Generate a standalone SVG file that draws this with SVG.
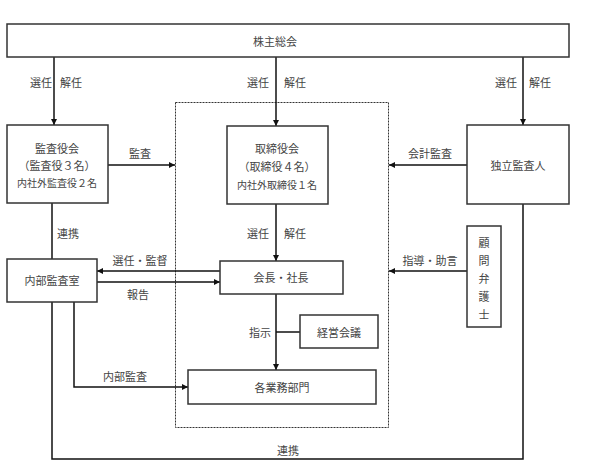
<svg xmlns="http://www.w3.org/2000/svg" width="606" height="466" viewBox="0 0 606 466">
<style>
.box{fill:#fff;stroke:#333;stroke-width:1.5}
.ln{fill:none;stroke:#111;stroke-width:1.5}
.ar{fill:none;stroke:#111;stroke-width:1.5;marker-end:url(#ah)}
.dot{fill:none;stroke:#333;stroke-width:1;stroke-dasharray:2 1}
text{font-family:"Noto Sans CJK JP","Noto Sans",sans-serif;font-size:11px;fill:#444;text-anchor:middle;dominant-baseline:central}
.s{font-size:10px}
</style>
<defs>
<marker id="ah" viewBox="0 0 8 8" refX="8" refY="4" markerWidth="6" markerHeight="6" markerUnits="userSpaceOnUse" orient="auto"><path d="M0,0 L8,4 L0,8 Z" fill="#111"/></marker>
</defs>
<rect class="dot" x="175.5" y="102.5" width="213" height="325"/>
<g id="connectors">
<path class="ar" d="M54,57 V125"/>
<path class="ar" d="M276,57 V126"/>
<path class="ar" d="M523,57 V125"/>
<path class="ar" d="M108,165 H175"/>
<path class="ar" d="M467,165 H389"/>
<path class="ar" d="M276,204 V261"/>
<path class="ln" d="M52,203 V259"/>
<path class="ar" d="M220,271 H97"/>
<path class="ar" d="M97,282 H220"/>
<path class="ar" d="M467,271 H389"/>
<path class="ar" d="M276,294 V370"/>
<path class="ln" d="M300,332 H276"/>
<path class="ar" d="M74,302 V387 H188"/>
<path class="ln" d="M52,302 V459 H523 V204"/>
<text x="41" y="82">選任</text><text x="71" y="82">解任</text>
<text x="258" y="82">選任</text><text x="295" y="82">解任</text>
<text x="506" y="82">選任</text><text x="540" y="82">解任</text>
<text x="140" y="153">監査</text>
<text x="430" y="153">会計監査</text>
<text x="258" y="233">選任</text><text x="295" y="233">解任</text>
<text x="68" y="233">連携</text>
<text x="140" y="260">選任・監督</text>
<text x="138" y="294">報告</text>
<text x="430" y="260">指導・助言</text>
<text x="260" y="332">指示</text>
<text x="125" y="376">内部監査</text>
<text x="288" y="450">連携</text>
</g>
<g id="shareholders"><rect class="box" x="7" y="24" width="562" height="33"/><text x="275" y="41">株主総会</text></g>
<g id="audit-board"><rect class="box" x="7" y="125" width="101" height="78"/><text x="57" y="148">監査役会</text><text x="57" y="165">（監査役３名）</text><text class="s" x="57" y="182">内社外監査役２名</text></g>
<g id="board"><rect class="box" x="227" y="126" width="101" height="78"/><text x="277" y="148">取締役会</text><text x="277" y="166">（取締役４名）</text><text class="s" x="277" y="184">内社外取締役１名</text></g>
<g id="auditor"><rect class="box" x="467" y="125" width="102" height="79"/><text x="518" y="165">独立監査人</text></g>
<g id="internal-audit"><rect class="box" x="7" y="259" width="90" height="43"/><text x="52" y="280">内部監査室</text></g>
<g id="president"><rect class="box" x="220" y="261" width="123" height="33"/><text x="281" y="277">会長・社長</text></g>
<g id="lawyer"><rect class="box" x="467" y="226" width="34" height="101"/><text x="484" y="242">顧</text><text x="484" y="260">問</text><text x="484" y="278">弁</text><text x="484" y="296">護</text><text x="484" y="314">士</text></g>
<g id="mgmt-meeting"><rect class="box" x="300" y="315" width="78" height="33"/><text x="339" y="332">経営会議</text></g>
<g id="departments"><rect class="box" x="188" y="370" width="188" height="34"/><text x="282" y="387">各業務部門</text></g>
</svg>
